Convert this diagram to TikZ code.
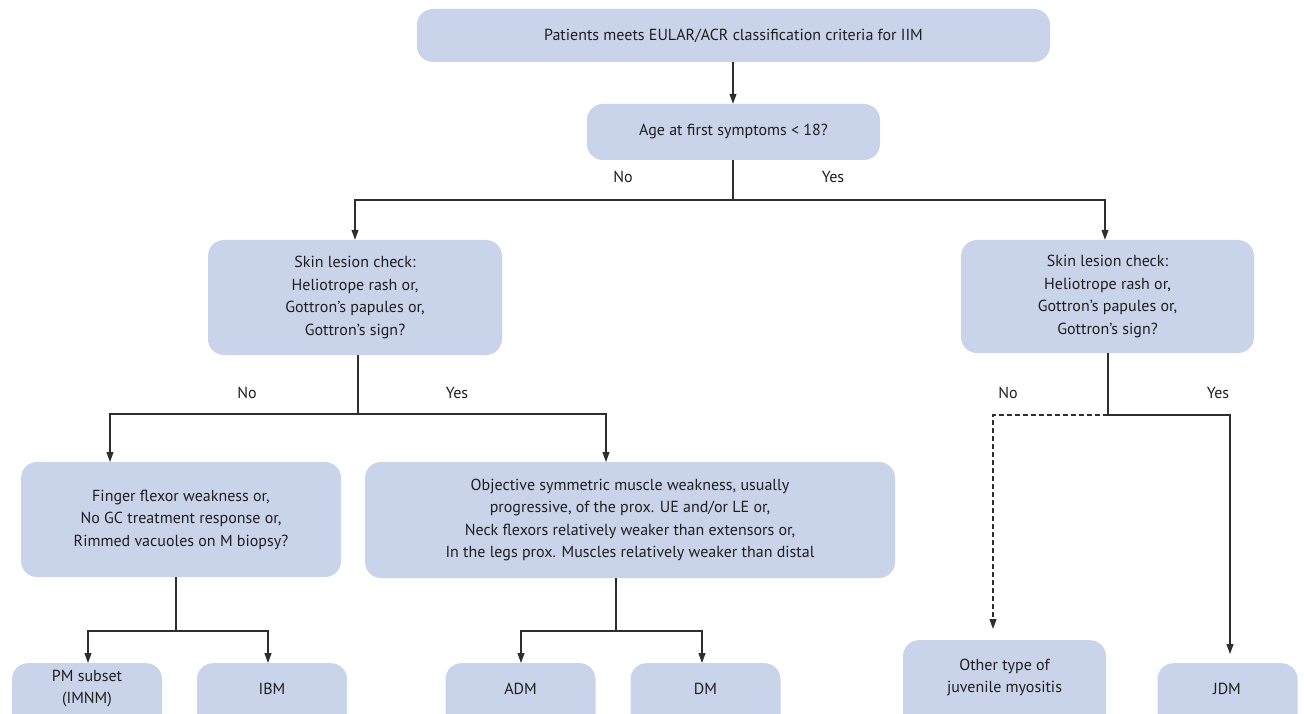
\documentclass[tikz,border=0pt]{standalone}
\usepackage{fontspec}
\setmainfont{PT Sans}
\usetikzlibrary{arrows.meta}
\definecolor{boxfill}{HTML}{C9D3EA}
\definecolor{linec}{HTML}{2E2E2E}
\definecolor{textc}{HTML}{1E1E1E}
\tikzset{
  box/.style={fill=boxfill, draw=none, rounded corners=16pt, align=center, inner sep=0pt,
    font=\fontsize{16}{22.5}\selectfont, text=textc},
  conn/.style={draw=linec, line width=1.1pt},
  arr/.style={conn, -{Triangle[length=10pt,width=7pt]}},
  lbl/.style={font=\fontsize{16}{18}\selectfont, text=textc},
}
\begin{document}
\begin{tikzpicture}[x=1pt,y=-1pt]
\useasboundingbox (0,0) rectangle (1304,714);
\clip (0,0) rectangle (1304,714);
\node[box, minimum width=633pt, minimum height=53pt] (top) at (733.5,35.5) {Patients meets EULAR/ACR classification criteria for IIM};
\node[box, minimum width=293pt, minimum height=56pt] (age) at (733.5,132) {Age at first symptoms < 18?};
\node[box, minimum width=294pt, minimum height=115pt] (skinL) at (355,297.5) {Skin lesion check:\\Heliotrope rash or,\\Gottron's papules or,\\Gottron's sign?};
\node[box, minimum width=293pt, minimum height=113pt] (skinR) at (1107.5,296.5) {Skin lesion check:\\Heliotrope rash or,\\Gottron's papules or,\\Gottron's sign?};
\node[box, minimum width=320pt, minimum height=115pt] (finger) at (181,519.5) {Finger flexor weakness or,\\No GC treatment response or,\\Rimmed vacuoles on M biopsy?};
\node[box, minimum width=530pt, minimum height=116pt] (obj) at (630,520) {Objective symmetric muscle weakness, usually\\progressive, of the prox. UE and/or LE or,\\Neck flexors relatively weaker than extensors or,\\In the legs prox. Muscles relatively weaker than distal};
\node[box, minimum width=150pt, minimum height=80pt, anchor=north] (pm) at (87,663) {};
\node[box, font=\fontsize{16}{22}\selectfont] at (87,689) {PM subset\\(IMNM)};
\node[box, minimum width=150pt, minimum height=80pt, anchor=north] (ibm) at (272,663) {};
\node[box] at (272,689) {IBM};
\node[box, minimum width=150pt, minimum height=80pt, anchor=north] (adm) at (520.5,663) {};
\node[box] at (520.5,689) {ADM};
\node[box, minimum width=150pt, minimum height=80pt, anchor=north] (dm) at (705.5,663) {};
\node[box] at (705.5,689) {DM};
\node[box, minimum width=203pt, minimum height=100pt, anchor=north] (other) at (1004.5,640) {};
\node[box, font=\fontsize{16}{22}\selectfont] at (1004.5,677) {Other type of\\juvenile myositis};
\node[box, minimum width=140pt, minimum height=80pt, anchor=north] (jdm) at (1227.5,663) {};
\node[box] at (1227,689) {JDM};

\coordinate (j1) at (733,200);
\coordinate (j2) at (358,414);
\coordinate (j3) at (1108,415);
\coordinate (j4) at (176,631);
\coordinate (j5) at (616,631);

\draw[arr] (top.south -| j1) -- (age.north -| j1);
\draw[conn] (age.south -| j1) -- (j1);
\draw[arr] (j1) -| (skinL.north -| 355,0);
\draw[arr] (j1) -| (skinR.north -| 1105,0);
\node[lbl] at (623,177) {No};
\node[lbl] at (833,177) {Yes};

\draw[conn] (skinL.south -| j2) -- (j2);
\draw[arr] (j2) -| (110,462);
\draw[arr] (j2) -| (606,462);
\node[lbl] at (247,393) {No};
\node[lbl] at (457,393) {Yes};

\draw[conn] (skinR.south -| j3) -- (j3);
\draw[arr, dashed, dash pattern=on 5pt off 3pt] (j3) -| (993,629);
\draw[arr] (j3) -| (1230,654);
\node[lbl] at (1008,393) {No};
\node[lbl] at (1218,393) {Yes};

\draw[conn] (finger.south -| j4) -- (j4);
\draw[arr] (j4) -| (88,663);
\draw[arr] (j4) -| (268,663);

\draw[conn] (obj.south -| j5) -- (j5);
\draw[arr] (j5) -| (521,663);
\draw[arr] (j5) -| (702,663);
\end{tikzpicture}
\end{document}
